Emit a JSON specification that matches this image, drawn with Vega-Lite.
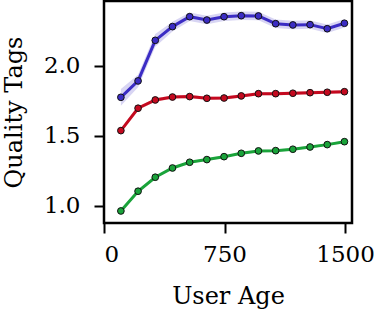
{
  "$schema": "https://vega.github.io/schema/vega-lite/v6.json",
  "autosize": {"type": "none"},
  "width": 248,
  "height": 222,
  "padding": {"left": 104, "top": 1, "right": 23, "bottom": 88},
  "background": "white",
  "config": {
    "font": "DejaVu Serif",
    "view": {"stroke": "black", "strokeWidth": 2.5},
    "axis": {
      "grid": false,
      "domain": false,
      "ticks": true,
      "tickColor": "black",
      "tickWidth": 2,
      "tickSize": 10,
      "labelFont": "DejaVu Serif",
      "labelFontSize": 23,
      "labelColor": "black",
      "titleFont": "DejaVu Serif",
      "titleFontSize": 24,
      "titleFontWeight": "normal",
      "titleColor": "black"
    }
  },
  "data": {
    "values": [
      {"s": "a", "x": 105, "y": 1.774, "lo": 1.714, "hi": 1.834},
      {"s": "a", "x": 212, "y": 1.891, "lo": 1.846, "hi": 1.936},
      {"s": "a", "x": 319, "y": 2.181, "lo": 2.136, "hi": 2.226},
      {"s": "a", "x": 426, "y": 2.279, "lo": 2.244, "hi": 2.314},
      {"s": "a", "x": 533, "y": 2.35, "lo": 2.32, "hi": 2.38},
      {"s": "a", "x": 640, "y": 2.326, "lo": 2.296, "hi": 2.356},
      {"s": "a", "x": 747, "y": 2.35, "lo": 2.32, "hi": 2.38},
      {"s": "a", "x": 854, "y": 2.357, "lo": 2.327, "hi": 2.387},
      {"s": "a", "x": 961, "y": 2.355, "lo": 2.325, "hi": 2.385},
      {"s": "a", "x": 1068, "y": 2.3, "lo": 2.27, "hi": 2.33},
      {"s": "a", "x": 1175, "y": 2.291, "lo": 2.261, "hi": 2.321},
      {"s": "a", "x": 1282, "y": 2.293, "lo": 2.263, "hi": 2.323},
      {"s": "a", "x": 1389, "y": 2.264, "lo": 2.234, "hi": 2.294},
      {"s": "a", "x": 1496, "y": 2.303, "lo": 2.273, "hi": 2.333},
      {"s": "b", "x": 105, "y": 1.536, "lo": 1.524, "hi": 1.548},
      {"s": "b", "x": 212, "y": 1.696, "lo": 1.684, "hi": 1.708},
      {"s": "b", "x": 319, "y": 1.755, "lo": 1.743, "hi": 1.767},
      {"s": "b", "x": 426, "y": 1.776, "lo": 1.764, "hi": 1.788},
      {"s": "b", "x": 533, "y": 1.779, "lo": 1.767, "hi": 1.791},
      {"s": "b", "x": 640, "y": 1.767, "lo": 1.755, "hi": 1.779},
      {"s": "b", "x": 747, "y": 1.769, "lo": 1.757, "hi": 1.781},
      {"s": "b", "x": 854, "y": 1.784, "lo": 1.772, "hi": 1.796},
      {"s": "b", "x": 961, "y": 1.8, "lo": 1.788, "hi": 1.812},
      {"s": "b", "x": 1068, "y": 1.8, "lo": 1.788, "hi": 1.812},
      {"s": "b", "x": 1175, "y": 1.803, "lo": 1.791, "hi": 1.815},
      {"s": "b", "x": 1282, "y": 1.807, "lo": 1.795, "hi": 1.819},
      {"s": "b", "x": 1389, "y": 1.81, "lo": 1.798, "hi": 1.822},
      {"s": "b", "x": 1496, "y": 1.814, "lo": 1.802, "hi": 1.826},
      {"s": "c", "x": 105, "y": 0.962, "lo": 0.954, "hi": 0.97},
      {"s": "c", "x": 212, "y": 1.103, "lo": 1.095, "hi": 1.111},
      {"s": "c", "x": 319, "y": 1.203, "lo": 1.195, "hi": 1.211},
      {"s": "c", "x": 426, "y": 1.269, "lo": 1.261, "hi": 1.277},
      {"s": "c", "x": 533, "y": 1.31, "lo": 1.302, "hi": 1.318},
      {"s": "c", "x": 640, "y": 1.329, "lo": 1.321, "hi": 1.337},
      {"s": "c", "x": 747, "y": 1.35, "lo": 1.342, "hi": 1.358},
      {"s": "c", "x": 854, "y": 1.374, "lo": 1.366, "hi": 1.382},
      {"s": "c", "x": 961, "y": 1.391, "lo": 1.383, "hi": 1.399},
      {"s": "c", "x": 1068, "y": 1.393, "lo": 1.385, "hi": 1.401},
      {"s": "c", "x": 1175, "y": 1.403, "lo": 1.395, "hi": 1.411},
      {"s": "c", "x": 1282, "y": 1.419, "lo": 1.411, "hi": 1.427},
      {"s": "c", "x": 1389, "y": 1.436, "lo": 1.428, "hi": 1.444},
      {"s": "c", "x": 1496, "y": 1.457, "lo": 1.449, "hi": 1.465}
    ]
  },
  "encoding": {
    "x": {
      "field": "x", "type": "quantitative",
      "scale": {"domain": [0, 1543], "nice": false, "zero": false},
      "axis": {"values": [0, 750, 1500], "format": "d", "title": "User Age", "labelPadding": 10, "titlePadding": 18}
    },
    "color": {
      "field": "s", "type": "nominal",
      "scale": {"domain": ["a", "b", "c"], "range": ["#3b2cc4", "#c4091f", "#1aa33a"]},
      "legend": null
    }
  },
  "layer": [
    {
      "mark": {"type": "area", "opacity": 0.2},
      "encoding": {
        "y": {"field": "lo", "type": "quantitative",
          "scale": {"domain": [0.876, 2.462], "nice": false, "zero": false},
          "axis": {"values": [1.0, 1.5, 2.0], "format": ".1f", "title": "Quality Tags", "labelPadding": 14, "titlePadding": 17}},
        "y2": {"field": "hi"}
      }
    },
    {
      "mark": {"type": "line", "strokeWidth": 3},
      "encoding": {"y": {"field": "y", "type": "quantitative"}}
    },
    {
      "mark": {"type": "point", "filled": true, "size": 45, "stroke": "#111111", "strokeWidth": 1, "opacity": 1},
      "encoding": {"y": {"field": "y", "type": "quantitative"}}
    }
  ]
}
